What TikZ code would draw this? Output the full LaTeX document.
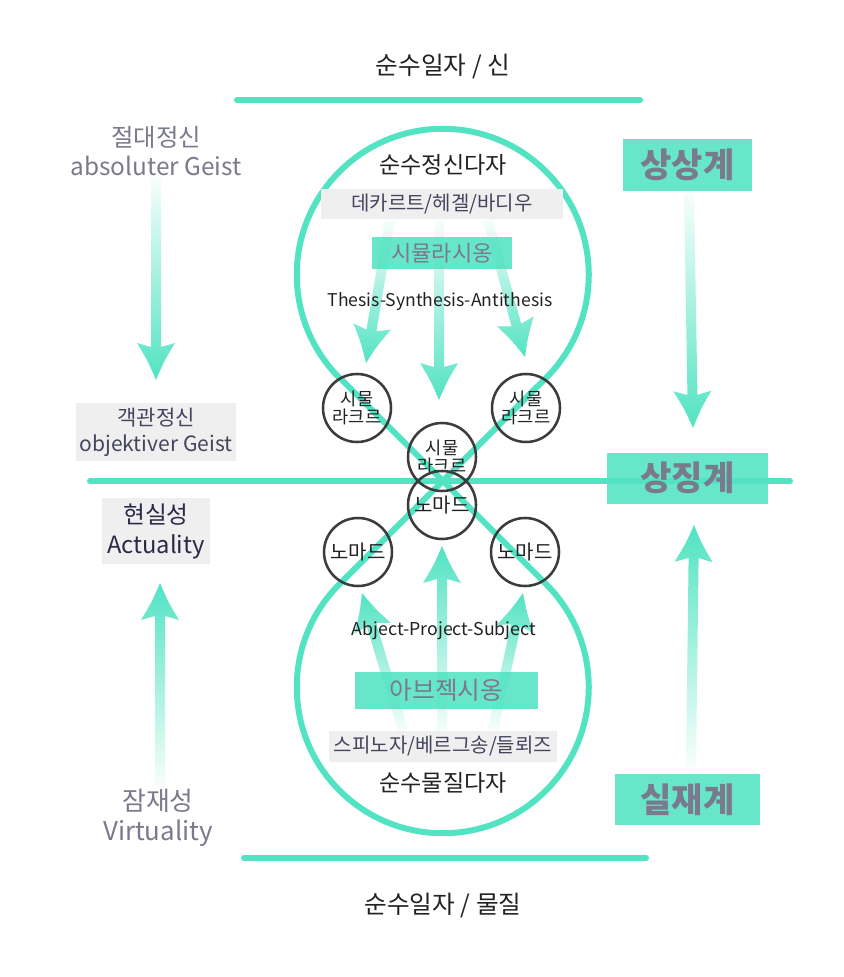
\documentclass[tikz,border=0pt]{standalone}
\usepackage{fontspec}
\setmainfont{Noto Sans CJK KR}
\usetikzlibrary{calc}
\definecolor{mint}{HTML}{52E3C2}
\colorlet{faint}{mint!4!white}
\definecolor{titlegray}{HTML}{7A7A8E}
\definecolor{darktext}{HTML}{222222}
\definecolor{boxtext}{HTML}{45455E}
\definecolor{navytext}{HTML}{2A2A48}
\definecolor{boxgray}{HTML}{EFEFEF}
\definecolor{ringgray}{HTML}{3C3C3C}
\newcommand\fs[2]{\fontsize{#1}{#2}\selectfont}
% gradient arrow from start coordinate #1 to tip coordinate #2, shading style #3
\newcommand\gradarrow[3]{%
  \path ($(#2)!27.75pt!(#1)$) coordinate (ga-b)
        ($(#2)!24.75pt!(#1)$) coordinate (ga-j)
        ($(#2)!14pt!(#1)$) coordinate (ga-m);
  \shade[#3] (#2)
     .. controls ($(ga-m)!6pt!90:(#2)$) .. ($(ga-b)!14.25pt!90:(#2)$)
     -- ($(ga-j)!3.75pt!90:(#2)$)
     -- ($(#1)!3.75pt!90:(#2)$)
     -- ($(#1)!3.75pt!-90:(#2)$)
     -- ($(ga-j)!3.75pt!-90:(#2)$)
     -- ($(ga-b)!14.25pt!-90:(#2)$)
     .. controls ($(ga-m)!6pt!-90:(#2)$) .. (#2) -- cycle;
}
\tikzset{
  loopline/.style={draw=mint, line width=4.5pt, line join=round},
  barline/.style={draw=mint, line width=4.5pt, line cap=round},
  arrdown/.style={top color=faint, bottom color=mint},
  arrup/.style={top color=mint, bottom color=faint},
  graybox/.style={fill=boxgray, inner sep=0pt, text=boxtext, align=center},
  mintbox/.style={fill=mint, fill opacity=0.88, text opacity=1, text=titlegray, inner sep=0pt},
  ring/.style={circle, draw=ringgray, line width=1.9pt, minimum size=51pt, inner sep=0pt, align=center, text=darktext},
  plain/.style={inner sep=0pt, align=center},
}
\begin{document}
\begin{tikzpicture}[x=0.75pt,y=0.75pt]
\useasboundingbox[fill=white] (0,0) rectangle (843,-977);

% horizontal bars
\coordinate (topL) at (237,-100); \coordinate (topR) at (640,-100);
\coordinate (botL) at (244,-858); \coordinate (botR) at (646,-858);
\coordinate (midL) at (90,-481);  \coordinate (midR) at (790,-481);
\draw[barline] (topL) -- (topR);
\draw[barline] (botL) -- (botR);

% figure-eight loop
\draw[loopline] (340,-378) -- (546,-584) arc[start angle=45, end angle=-225, radius=146]
  -- (546,-378) arc[start angle=-45, end angle=225, radius=146] -- cycle;

\draw[barline] (midL) -- (midR);

% arrow coordinates
\coordinate (lA1) at (156,-176); \coordinate (lA2) at (156,-380);
\coordinate (lB1) at (160,-787); \coordinate (lB2) at (160,-583);
\coordinate (rA1) at (689,-193); \coordinate (rA2) at (693,-428);
\coordinate (rB1) at (691,-767); \coordinate (rB2) at (694,-525);
\coordinate (tL1) at (390,-220); \coordinate (tL2) at (366,-363);
\coordinate (tM1) at (439,-220); \coordinate (tM2) at (439,-400);
\coordinate (tR1) at (488,-220); \coordinate (tR2) at (525,-357);
\coordinate (bL1) at (403,-730); \coordinate (bL2) at (362,-593);
\coordinate (bM1) at (442,-735); \coordinate (bM2) at (442,-546);
\coordinate (bR1) at (493,-730); \coordinate (bR2) at (523,-593);

\gradarrow{lA1}{lA2}{arrdown}
\gradarrow{lB1}{lB2}{arrup}
\gradarrow{rA1}{rA2}{arrdown}
\gradarrow{rB1}{rB2}{arrup}
\gradarrow{tL1}{tL2}{arrdown}
\gradarrow{tM1}{tM2}{arrdown}
\gradarrow{tR1}{tR2}{arrdown}
\gradarrow{bL1}{bL2}{arrup}
\gradarrow{bM1}{bM2}{arrup}
\gradarrow{bR1}{bR2}{arrup}

% top / bottom titles
\node[plain, text=darktext, font=\fs{18.5}{21}] (tTitle) at (443,-67) {순수일자 / 신};
\node[plain, text=darktext, font=\fs{18.5}{21}] (bTitle) at (443,-905) {순수일자 / 물질};

% left column
\node[plain, text=titlegray, font=\fs{18.3}{21.75}] (absG) at (156,-151) {절대정신\\absoluter Geist};
\node[graybox, minimum width=120pt, minimum height=43.5pt, font=\fs{15.8}{19.5}] (objG) at (156,-432) {객관정신\\objektiver Geist};
\node[graybox, text=navytext, minimum width=81pt, minimum height=49.5pt, font=\fs{17.8}{22.5}] (act) at (156,-531) {현실성\\Actuality};
\node[plain, text=titlegray, font=\fs{19.4}{22.5}] (virt) at (158,-818) {잠재성\\Virtuality};

% upper circle content
\node[plain, text=darktext, font=\fs{17.3}{20}] (pSpirit) at (443,-165) {순수정신다자};
\node[graybox, minimum width=181.5pt, minimum height=22.5pt, font=\fs{15}{17}] (hegel) at (442,-204) {데카르트/헤겔/바디우};
\node[mintbox, minimum width=105pt, minimum height=24pt, font=\fs{16.5}{19}] (simul) at (442,-253) {시뮬라시옹};
\node[plain, text=darktext, font=\fs{13.2}{15}] (thesis) at (440,-302) {Thesis-Synthesis-Antithesis};

% lower circle content
\node[plain, text=darktext, font=\fs{13.3}{15}] (abject) at (444,-631) {Abject-Project-Subject};
\node[mintbox, minimum width=137.25pt, minimum height=27.75pt, font=\fs{18.5}{21}] (abjec) at (446.5,-690.5) {아브젝시옹};
\node[graybox, minimum width=171pt, minimum height=23.25pt, font=\fs{15}{17}] (spin) at (443,-746.5) {스피노자/베르그송/들뢰즈};
\node[plain, text=darktext, font=\fs{17.3}{20}] (pMatter) at (443,-783) {순수물질다자};

% small rings
\node[ring, font=\fs{13.2}{13.5}] (rTL) at (357,-408) {시물\\라크르};
\node[ring, font=\fs{13.2}{13.5}] (rTR) at (526,-408) {시물\\라크르};
\node[ring, font=\fs{13.2}{13.5}] (rCT) at (442,-457) {시물\\라크르};
\node[ring, font=\fs{15}{17}] (rCB) at (442,-505) {노마드};
\node[ring, font=\fs{15}{17}] (rBL) at (358,-552) {노마드};
\node[ring, font=\fs{15}{17}] (rBR) at (525,-552) {노마드};

% right column
\node[mintbox, minimum width=96.75pt, minimum height=39pt, font=\fs{25.5}{29}\bfseries] (imag) at (687.5,-165) {상상계};
\node[mintbox, minimum width=120.75pt, minimum height=38.25pt, font=\fs{25.5}{29}\bfseries] (symb) at (687.5,-478) {상징계};
\node[mintbox, minimum width=108.75pt, minimum height=38.25pt, font=\fs{25.5}{29}\bfseries] (real) at (687.5,-799.5) {실재계};
\end{tikzpicture}
\end{document}
